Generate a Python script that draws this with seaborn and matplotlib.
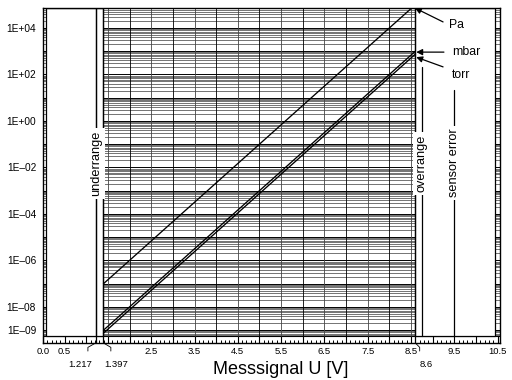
import numpy as np
import pandas as pd
import matplotlib
matplotlib.use("Agg")
import matplotlib.pyplot as plt
import seaborn as sns
from matplotlib.patches import Rectangle
from matplotlib.ticker import FixedLocator, MultipleLocator, FixedFormatter

# ---- data -------------------------------------------------------------
signal_u = [1.397, 8.6]
p_pa = [1.0e-7, 1.0e5]
p_mbar = [1.0e-9, 1.0e3]
p_torr = [7.5e-10, 7.5e2]
units = ["Pa", "mbar", "torr"]

y_ticks = [1e4, 1e2, 1e0, 1e-2, 1e-4, 1e-6, 1e-8, 1e-9]
y_ticklabels = ["1E+04", "1E+02", "1E+00", "1E–02", "1E–04", "1E–06", "1E–08", "1E–09"]
x_ticks = [0.0, 0.5, 2.5, 3.5, 4.5, 5.5, 6.5, 7.5, 8.5, 9.5, 10.5]
x_ticklabels = ["0.0", "0.5", "2.5", "3.5", "4.5", "5.5", "6.5", "7.5", "8.5", "9.5", "10.5"]
x_marks = [1.217, 1.397, 8.6]
x_mark_labels = ["1.217", "1.397", "8.6"]
range_labels = ["underrange", "overrange", "sensor error"]
range_x = [1.217, 8.75, 9.5]
x_label = "Messsignal U [V]"

# ---- style ------------------------------------------------------------
sns.set_style("white")
plt.rcParams["font.family"] = ["Liberation Sans", "DejaVu Sans"]
plt.rcParams["text.color"] = "black"
plt.rcParams["xtick.color"] = "black"
plt.rcParams["ytick.color"] = "black"

fig = plt.figure(figsize=(5.12, 3.8), dpi=100)
ax = fig.add_axes([43 / 512, 1 - 343 / 380, 457 / 512, 335.5 / 380])
ax.set_yscale("log")
y_lo, y_hi = 10 ** -9.55, 10 ** 4.88
box_bottom = 10 ** -9.25
ax.set_xlim(0, 10.555)
ax.set_ylim(y_lo, y_hi)

# grid
for n in range(-10, 6):
    for k in range(1, 10):
        v = k * 10.0 ** n
        if box_bottom <= v <= y_hi:
            ax.axhline(v, color="black" if k == 1 else "#262626",
                       lw=0.7 if k == 1 else 0.45, zorder=1)
ax.axhline(box_bottom, color="black", lw=0.8, zorder=1)
for xv in np.arange(1.5, 8.51, 0.5):
    ax.vlines(xv, box_bottom, y_hi, color="black" if xv % 1 == 0 else "#444444",
              lw=0.6, zorder=1)

# white boxes
ax.add_patch(Rectangle((0.07, box_bottom), 1.397 - 0.07, y_hi - box_bottom,
                       facecolor="white", edgecolor="black", lw=0.9, zorder=2))
ax.add_patch(Rectangle((8.6, box_bottom), 10.44 - 8.6, y_hi - box_bottom,
                       facecolor="white", edgecolor="black", lw=0.9, zorder=2))

# marker lines through the bottom strip
xt = ax.get_xaxis_transform()
for xm in x_marks:
    ax.plot([xm, xm], [0, 1], color="black", lw=0.9, transform=xt, zorder=3)

# data lines
df = pd.DataFrame({
    "U": signal_u * 3,
    "p": p_pa + p_mbar + p_torr,
    "unit": [units[0]] * 2 + [units[1]] * 2 + [units[2]] * 2,
})
sns.lineplot(data=df, x="U", y="p", hue="unit",
             palette={u: "black" for u in units}, legend=False,
             lw=0.95, ax=ax, zorder=4)
ax.set_xlabel("")
ax.set_ylabel("")

# range lines and labels
line_tops = [1.0, 0.8227, 0.754]
for xr, lab, top in zip(range_x, range_labels, line_tops):
    ax.plot([xr, xr], [(343 - 336) / 335.5, top], color="black", lw=0.9,
            transform=xt, zorder=3)
    ax.text(xr, 0.5365, lab, rotation=90, ha="center", va="center",
            fontsize=9.2, transform=xt, zorder=5,
            bbox=dict(facecolor="white", edgecolor="none", pad=2.0))

# unit annotations with arrows
ann = [
    ("Pa", (9.38, 0.948), (9.24, 0.957), (8.59, 0.9985)),
    ("mbar", (9.45, 0.867), (9.26, 0.867), (8.62, 0.867)),
    ("torr", (9.45, 0.799), (9.24, 0.823), (8.62, 0.852)),
]
for lab, tpos, tail, tip in ann:
    ax.text(tpos[0], tpos[1], lab, ha="left", va="center", fontsize=8.8,
            transform=xt, zorder=6)
    ax.annotate("", xy=tip, xycoords=xt, xytext=tail, textcoords=xt,
                arrowprops=dict(arrowstyle="-|>", color="black", lw=0.9,
                                mutation_scale=9, shrinkA=0, shrinkB=0),
                zorder=6, annotation_clip=False)

# ticks
ax.xaxis.set_major_locator(FixedLocator(np.arange(0, 10.51, 0.5)))
lab_map = dict(zip([round(v, 1) for v in x_ticks], x_ticklabels))
ax.xaxis.set_major_formatter(FixedFormatter(
    [lab_map.get(round(v, 1), "") for v in np.arange(0, 10.51, 0.5)]))
ax.xaxis.set_minor_locator(MultipleLocator(0.1))
ax.tick_params(axis="x", which="major", direction="in", length=5, width=0.8,
               labelsize=6.8, pad=3, bottom=True, top=False)
ax.tick_params(axis="x", which="minor", direction="in", length=2.2, width=0.7,
               bottom=True, top=False)
ax.yaxis.set_major_locator(FixedLocator(y_ticks))
ax.yaxis.set_major_formatter(FixedFormatter(y_ticklabels))
ax.yaxis.set_minor_locator(FixedLocator([]))
ax.tick_params(axis="y", which="both", length=0, labelsize=7.3, pad=5)

for s in ax.spines.values():
    s.set_visible(True)
    s.set_color("black")
    s.set_linewidth(1.0)

# bracket annotations under the axis
offs = [-0.18, 0.17, 0.1]
label_x = [0.85, 1.70, 8.85]
for xm, dx, lx, lab in zip(x_marks, offs, label_x, x_mark_labels):
    ax.plot([xm, xm + dx, xm + dx], [0, -0.013, -0.024], color="black",
            lw=0.6, transform=xt, clip_on=False)
    ax.text(lx, -0.063, lab, ha="center", va="center", fontsize=6.8,
            transform=xt)

fig.text(281 / 512, 1 - 370 / 380, x_label, ha="center", va="center",
         fontsize=13)

fig.savefig("out.png", dpi=100)
